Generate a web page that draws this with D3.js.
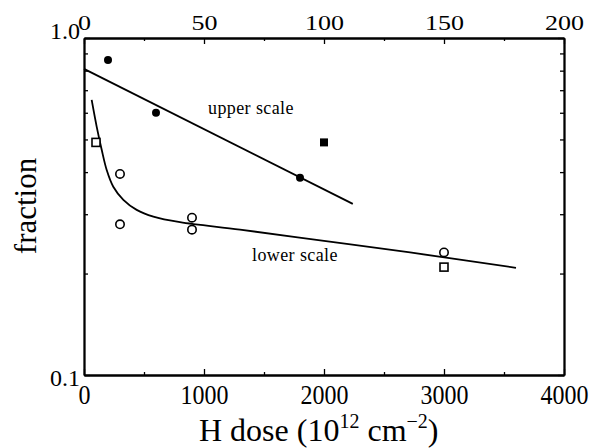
<!DOCTYPE html>
<html>
<head>
<meta charset="utf-8">
<script src="https://cdn.jsdelivr.net/npm/d3@7/dist/d3.min.js"></script>
<style>
	body { margin: 0; background: #fff; }
	svg { display: block; font-family: "Liberation Serif", "Times New Roman", serif; }
</style>
</head>
<body>
<svg id="chart" width="593" height="448"></svg>
<script>

// filled symbols, read on the upper scale (0-200)
var upperCircleX = [10, 30, 90];
var upperCircleY = [0.86, 0.60, 0.385];
var upperSquareX = [100];
var upperSquareY = [0.49];

// open symbols, read on the lower scale (0-4000)
var lowerCircleX = [300, 300, 900, 900, 3000];
var lowerCircleY = [0.395, 0.28, 0.293, 0.27, 0.231];
var lowerSquareX = [100, 3000];
var lowerSquareY = [0.49, 0.209];

// fit lines
var upperFitX = [0, 112];
var upperFitY = [0.81, 0.322];
var lowerFitX = [64, 106, 148, 189, 244, 328, 439, 578, 800, 1300, 2000, 2717, 3600];
var lowerFitY = [0.655, 0.545, 0.465, 0.406, 0.362, 0.331, 0.309, 0.295, 0.284, 0.27, 0.25, 0.231, 0.208];

// ticks
var bottomTicks = [0, 1000, 2000, 3000, 4000];
var bottomMinor = [500, 1500, 2500, 3500];
var topTicks = [0, 50, 100, 150, 200];
var topMinor = [25, 75, 125, 175];
var yTicks = [0.1, 1];
var yMinor = [0.2, 0.3, 0.4, 0.5, 0.6, 0.7, 0.8, 0.9];

var padLeft = 84, padRight = 564, padTop = 38, padBottom = 375;

var svg = d3.select('#chart');

var x = d3.scaleLinear().domain([0, 4000]).range([padLeft, padRight]);
var xTop = d3.scaleLinear().domain([0, 200]).range([padLeft, padRight]);
var y = d3.scaleLog().domain([0.1, 1]).range([padBottom, padTop]);

function zip(a, b) {
	return a.map(function(v, i) { return [v, b[i]]; });
}

// axes
var gb = svg.append('g').attr('transform', 'translate(0,' + padBottom + ')');
gb.call(d3.axisBottom(x).tickValues(bottomTicks).tickSize(-6).tickSizeOuter(0).tickFormat(d3.format('d')));
gb.append('g').call(d3.axisBottom(x).tickValues(bottomMinor).tickSize(-3).tickSizeOuter(0).tickFormat(''));
gb.selectAll('text').attr('dy', null).attr('y', 0)
	.attr('transform', 'translate(0,29) scale(1,1.1)')
	.style('font-size', '24px');

var gt = svg.append('g').attr('transform', 'translate(0,' + padTop + ')');
gt.call(d3.axisTop(xTop).tickValues(topTicks).tickSize(-6).tickSizeOuter(0).tickFormat(d3.format('d')));
gt.append('g').call(d3.axisTop(xTop).tickValues(topMinor).tickSize(-3).tickSizeOuter(0).tickFormat(''));
gt.selectAll('text').attr('dy', null).attr('y', 0)
	.attr('transform', 'translate(0,-8) scale(1,0.78)')
	.style('font-size', '26px');

var gl = svg.append('g').attr('transform', 'translate(' + padLeft + ',0)');
gl.call(d3.axisLeft(y).tickValues(yTicks).tickSize(-6).tickSizeOuter(0).tickFormat(d3.format('.1f')));
gl.append('g').call(d3.axisLeft(y).tickValues(yMinor).tickSize(-4).tickSizeOuter(0).tickFormat(''));
gl.selectAll('text').attr('x', -4).attr('dy', function(d) { return d === 1 ? '0' : '10'; })
	.style('font-size', '24px');

var gr = svg.append('g').attr('transform', 'translate(' + padRight + ',0)');
gr.call(d3.axisRight(y).tickValues(yTicks).tickSize(-6).tickSizeOuter(0).tickFormat(''));
gr.append('g').call(d3.axisRight(y).tickValues(yMinor).tickSize(-4).tickSizeOuter(0).tickFormat(''));

svg.selectAll('.domain').attr('stroke', '#000').attr('stroke-width', 1.8);
svg.selectAll('.tick line').attr('stroke', '#000').attr('stroke-width', 1.3);
svg.selectAll('.tick text').attr('fill', '#000').style('font-family', '"Liberation Serif", serif');

// fit lines
var lineTop = d3.line().x(function(d) { return xTop(d[0]); }).y(function(d) { return y(d[1]); });
var lineBottom = d3.line().x(function(d) { return x(d[0]); }).y(function(d) { return y(d[1]); }).curve(d3.curveCatmullRom.alpha(0.5));

svg.append('path').datum(zip(upperFitX, upperFitY)).attr('d', lineTop)
	.attr('fill', 'none').attr('stroke', '#000').attr('stroke-width', 1.8);
svg.append('path').datum(zip(lowerFitX, lowerFitY)).attr('d', lineBottom)
	.attr('fill', 'none').attr('stroke', '#000').attr('stroke-width', 1.8);

// symbols
svg.selectAll('.uc').data(zip(upperCircleX, upperCircleY)).enter().append('circle')
	.attr('cx', function(d) { return xTop(d[0]); }).attr('cy', function(d) { return y(d[1]); })
	.attr('r', 4).attr('fill', '#000');

svg.selectAll('.us').data(zip(upperSquareX, upperSquareY)).enter().append('rect')
	.attr('x', function(d) { return xTop(d[0]) - 4; }).attr('y', function(d) { return y(d[1]) - 4; })
	.attr('width', 8).attr('height', 8).attr('fill', '#000');

svg.selectAll('.lc').data(zip(lowerCircleX, lowerCircleY)).enter().append('circle')
	.attr('cx', function(d) { return x(d[0]); }).attr('cy', function(d) { return y(d[1]); })
	.attr('r', 4.2).attr('fill', '#fff').attr('stroke', '#000').attr('stroke-width', 1.6);

svg.selectAll('.ls').data(zip(lowerSquareX, lowerSquareY)).enter().append('rect')
	.attr('x', function(d) { return x(d[0]) - 4; }).attr('y', function(d) { return y(d[1]) - 4; })
	.attr('width', 8).attr('height', 8).attr('fill', '#fff').attr('stroke', '#000').attr('stroke-width', 1.6);

// annotations
svg.append('text').attr('x', 208).attr('y', 114).style('font-size', '18px').style('letter-spacing', '0.4px').text('upper scale');
svg.append('text').attr('x', 252).attr('y', 261).style('font-size', '18px').style('letter-spacing', '0.4px').text('lower scale');

// axis titles
svg.append('text').attr('transform', 'translate(36,206) rotate(-90)').attr('text-anchor', 'middle')
	.style('font-size', '31px').text('fraction');

var xt = svg.append('text').attr('x', 199).attr('y', 441).style('font-size', '32px');
xt.append('tspan').text('H dose (10');
xt.append('tspan').attr('dy', -13).style('font-size', '20px').text('12');
xt.append('tspan').attr('dy', 13).text(' cm');
xt.append('tspan').attr('dy', -13).style('font-size', '20px').text('\u22122');
xt.append('tspan').attr('dy', 13).text(')');

</script>
</body>
</html>
